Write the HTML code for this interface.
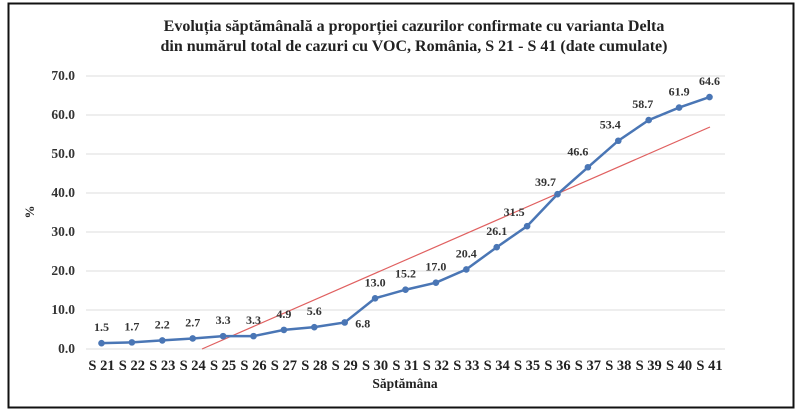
<!DOCTYPE html><html><head><style>body{margin:0;background:#fff}</style></head><body>
<svg width="800" height="414" xmlns="http://www.w3.org/2000/svg" font-family="Liberation Serif, serif" font-weight="bold">
<rect x="8.5" y="3.5" width="785" height="404" fill="#fff" stroke="#111" stroke-width="2"/>
<text x="414" y="31" text-anchor="middle" font-size="16" fill="#222">Evoluția săptămânală a proporției cazurilor confirmate cu varianta Delta</text>
<text x="414" y="51" text-anchor="middle" font-size="16" fill="#222">din numărul total de cazuri cu VOC, România, S 21 - S 41 (date cumulate)</text>
<g stroke="#ddd" stroke-width="1">
<line x1="86" x2="725" y1="76" y2="76"/><line x1="86" x2="725" y1="115" y2="115"/><line x1="86" x2="725" y1="154" y2="154"/><line x1="86" x2="725" y1="193" y2="193"/><line x1="86" x2="725" y1="232" y2="232"/><line x1="86" x2="725" y1="271" y2="271"/><line x1="86" x2="725" y1="310" y2="310"/><line x1="86" x2="725" y1="349" y2="349"/>
</g>
<g font-size="13.5" fill="#333" text-anchor="end">
<text x="75" y="80">70.0</text><text x="75" y="119">60.0</text><text x="75" y="158">50.0</text><text x="75" y="197">40.0</text><text x="75" y="236">30.0</text><text x="75" y="275">20.0</text><text x="75" y="314">10.0</text><text x="75" y="353">0.0</text>
</g>
<text x="34" y="212" font-size="13" fill="#222" transform="rotate(-90 34 212)" text-anchor="middle">%</text>
<text x="405" y="388" text-anchor="middle" font-size="13.5" fill="#222">Săptămâna</text>
<line x1="202" y1="349" x2="710" y2="127" stroke="#e06060" stroke-width="1.2"/>
<g id="s"></g>
<script>
const v=[1.5,1.7,2.2,2.7,3.3,3.3,4.9,5.6,6.8,13.0,15.2,17.0,20.4,26.1,31.5,39.7,46.6,53.4,58.7,61.9,64.6];
const NS="http://www.w3.org/2000/svg",g=document.getElementById('s');
let pts=v.map((d,i)=>[101.5+i*30.4,349-d*3.9]);
let pl=document.createElementNS(NS,'polyline');pl.setAttribute('points',pts.map(p=>p.join(',')).join(' '));pl.setAttribute('fill','none');pl.setAttribute('stroke','#4a76b5');pl.setAttribute('stroke-width','2.5');g.appendChild(pl);
pts.forEach((p,i)=>{let c=document.createElementNS(NS,'circle');c.setAttribute('cx',p[0]);c.setAttribute('cy',p[1]);c.setAttribute('r','3.3');c.setAttribute('fill','#4a76b5');g.appendChild(c);
let t=document.createElementNS(NS,'text');let dx=0,dy=-12;
if(i==8){dx=18;dy=5}if(i==14){dx=-13;dy=-10}if(i==15){dx=-12;dy=-8}if(i==16){dx=-10}if(i==17){dx=-8}if(i==18){dx=-6}
t.setAttribute('x',p[0]+dx);t.setAttribute('y',p[1]+dy);t.setAttribute('text-anchor','middle');t.setAttribute('font-size','12');t.setAttribute('fill','#333');t.textContent=v[i].toFixed(1);g.appendChild(t);
let l=document.createElementNS(NS,'text');l.setAttribute('x',p[0]);l.setAttribute('y',370);l.setAttribute('text-anchor','middle');l.setAttribute('font-size','14.5');l.setAttribute('fill','#222');l.textContent='S '+(21+i);g.appendChild(l);});
</script>
</svg></body></html>
